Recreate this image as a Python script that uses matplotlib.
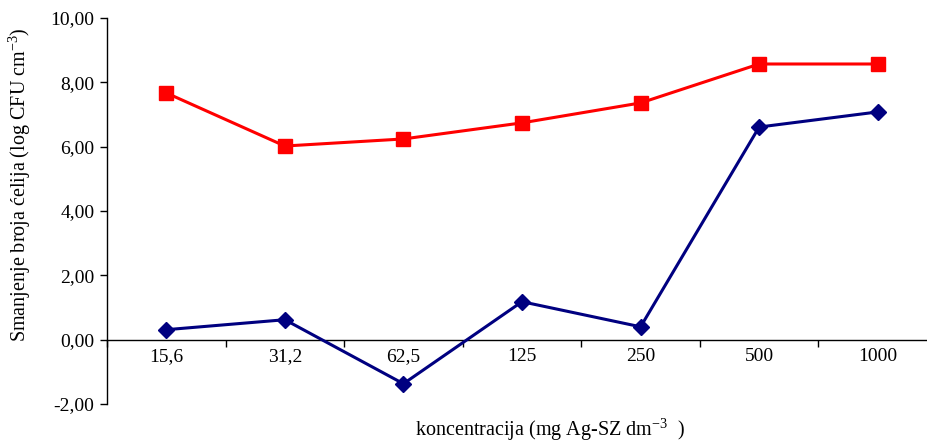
import matplotlib
matplotlib.use("Agg")
import matplotlib.pyplot as plt
from matplotlib.ticker import FixedLocator, FuncFormatter

categories = ["15,6", "31,2", "62,5", "125", "250", "500", "1000"]
red_values = [7.67, 6.02, 6.24, 6.74, 7.36, 8.57, 8.57]
blue_values = [0.31, 0.62, -1.37, 1.18, 0.40, 6.61, 7.08]
y_ticks = [-2, 0, 2, 4, 6, 8, 10]

plt.rcParams['font.family'] = ['Liberation Serif', 'DejaVu Serif']
plt.rcParams['mathtext.fontset'] = 'custom'
plt.rcParams['mathtext.rm'] = 'Liberation Serif'
plt.rcParams['mathtext.it'] = 'Liberation Serif:italic'
plt.rcParams['mathtext.default'] = 'rm'

fig = plt.figure(figsize=(9.28, 4.45), dpi=100)
ax = fig.add_axes([107/928, 1-404/445, 830/928, (404-18)/445])

x = list(range(len(categories)))
ax.plot(x, red_values, color='#FF0000', lw=2.2, marker='s', ms=10, zorder=3)
ax.plot(x, blue_values, color='#000080', lw=2.2, marker='D', ms=8, zorder=3)

ax.set_xlim(-0.5, len(categories) - 0.5)
ax.set_ylim(-2, 10)
ax.set_yticks(y_ticks)
ax.yaxis.set_major_formatter(FuncFormatter(lambda v, p: f"{v:.2f}".replace('.', ',')))
ax.tick_params(axis='y', direction='out', length=5, width=1, labelsize=14, pad=4)

ax.spines['top'].set_visible(False)
ax.spines['right'].set_visible(False)
ax.spines['bottom'].set_position(('data', 0))
ax.spines['left'].set_linewidth(1)
ax.spines['bottom'].set_linewidth(1)

ax.set_xticks(x)
ax.set_xticklabels(categories)
ax.xaxis.set_minor_locator(FixedLocator([i + 0.5 for i in range(-1, len(categories))]))
ax.tick_params(axis='x', which='major', length=0, labelsize=14, pad=6)
ax.tick_params(axis='x', which='minor', direction='out', length=5, width=1)

fig.text(20/928, 1-185/445, "Smanjenje broja ćelija (log CFU cm$^{-3}$)", rotation=90,
         ha='center', va='center', fontsize=14.5)
fig.text(550/928, 1-430/445, "koncentracija (mg Ag-SZ dm$^{-3}$  )",
         ha='center', va='center', fontsize=14.5)

fig.savefig("out.png", dpi=100)
